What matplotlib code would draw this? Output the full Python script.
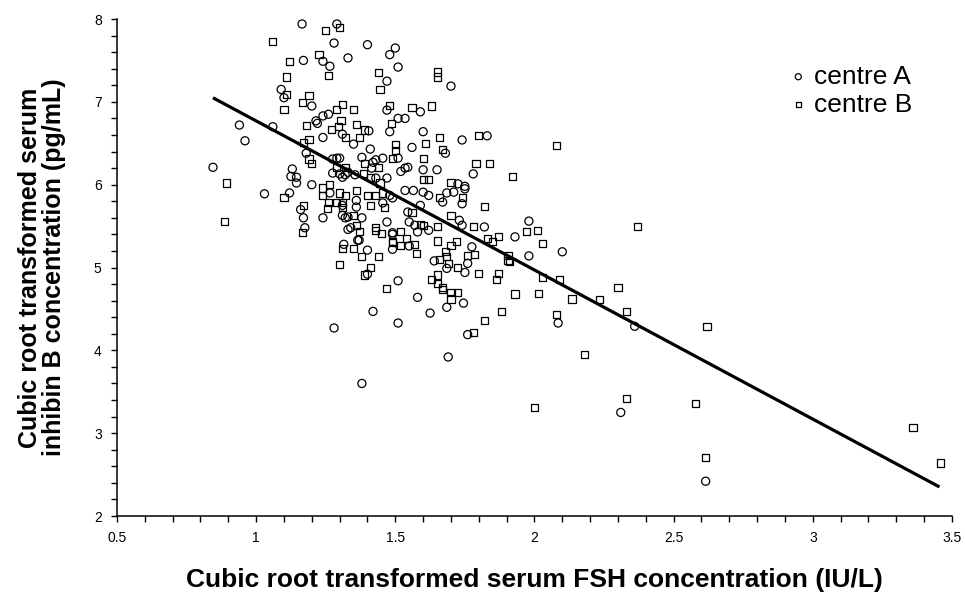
import matplotlib
matplotlib.use('Agg')
import matplotlib.pyplot as plt
from matplotlib.ticker import MultipleLocator
import numpy as np

plt.rcParams['font.family'] = ['Liberation Sans', 'DejaVu Sans']

# centre A (circles): cubic root FSH, cubic root inhibin B
a_x = [0.845, 0.94, 0.96, 1.03, 1.06, 1.165, 1.29, 1.28, 1.17, 1.24, 1.265, 1.33,
       1.09, 1.10, 1.20, 1.215, 1.22, 1.24, 1.26, 1.31, 1.24, 1.18, 1.275, 1.29,
       1.13, 1.125, 1.145, 1.275, 1.30, 1.32, 1.145, 1.20, 1.265, 1.12, 1.16, 1.17,
       1.24, 1.31, 1.32, 1.175, 1.33, 1.315, 1.28, 1.38, 1.42, 1.51, 1.51, 1.40,
       1.365, 1.49, 1.49, 1.51, 1.47, 1.70, 1.47, 1.59, 1.51, 1.535, 1.405, 1.35,
       1.48, 1.60, 1.74, 1.83, 1.41, 1.56, 1.68, 1.51, 1.38, 1.78, 1.65, 1.535,
       1.545, 1.52, 1.60, 1.725, 1.75, 1.75, 1.71, 1.685, 1.67, 1.74, 1.565, 1.535,
       1.60, 1.62, 1.59, 1.545, 1.55, 1.73, 1.82, 1.47, 1.30, 1.33, 1.31, 1.355,
       1.42, 1.43, 1.455, 1.415, 1.43, 1.47, 1.36, 1.48, 1.49, 1.455, 1.31, 1.36,
       1.38, 1.33, 1.34, 1.37, 1.40, 1.49, 1.55, 1.57, 1.58, 1.62, 1.64, 1.685,
       1.75, 1.76, 1.775, 1.74, 1.745, 1.685, 1.58, 1.625, 1.69, 1.76, 1.98, 1.93,
       2.10, 1.98, 2.36, 2.085, 2.31, 2.615, 1.40, 1.48, 1.50]
a_y = [6.21, 6.72, 6.53, 5.89, 6.70, 7.94, 7.94, 7.71, 7.50, 7.49, 7.43, 7.53,
       7.15, 7.05, 6.95, 6.77, 6.74, 6.83, 6.85, 6.61, 6.57, 6.38, 6.31, 6.32,
       6.19, 6.10, 6.09, 6.14, 6.13, 6.12, 6.02, 6.00, 5.90, 5.90, 5.70, 5.60,
       5.60, 5.63, 5.60, 5.48, 5.46, 5.28, 4.27, 3.60, 4.47, 4.84, 4.33, 4.92,
       5.33, 5.22, 5.40, 7.42, 7.25, 7.19, 6.90, 6.88, 6.80, 6.80, 6.65, 6.49,
       6.64, 6.64, 6.54, 6.59, 6.43, 6.45, 6.38, 6.32, 6.33, 6.13, 6.18, 6.20,
       6.21, 6.16, 6.18, 6.01, 5.98, 5.95, 5.91, 5.90, 5.79, 5.77, 5.93, 5.93,
       5.91, 5.87, 5.75, 5.67, 5.55, 5.57, 5.49, 5.55, 6.32, 6.15, 6.09, 6.12,
       6.27, 6.30, 6.32, 6.20, 6.08, 6.08, 5.81, 5.87, 5.84, 5.78, 5.75, 5.73,
       5.60, 5.61, 5.48, 5.33, 5.21, 5.42, 5.26, 5.51, 5.43, 5.45, 5.08, 4.99,
       4.94, 5.05, 5.25, 5.51, 4.57, 4.52, 4.64, 4.45, 3.92, 4.19, 5.56, 5.37,
       5.19, 5.14, 4.29, 4.33, 3.25, 2.42, 7.69, 7.57, 7.65]

# centre B (squares)
b_x = [0.895, 0.885, 1.25, 1.30, 1.06, 1.12, 1.226, 1.26, 1.11, 1.11, 1.10, 1.19,
       1.165, 1.31, 1.29, 1.18, 1.305, 1.27, 1.295, 1.32, 1.19, 1.17, 1.19, 1.20,
       1.29, 1.24, 1.265, 1.24, 1.26, 1.29, 1.30, 1.32, 1.31, 1.31, 1.255, 1.10,
       1.17, 1.165, 1.31, 1.30, 1.47, 1.35, 1.38, 1.44, 1.41, 1.39, 1.49, 1.45,
       1.44, 1.445, 1.65, 1.65, 1.35, 1.48, 1.56, 1.63, 1.485, 1.36, 1.39, 1.37,
       1.66, 1.80, 1.61, 1.50, 1.50, 1.67, 1.49, 1.60, 1.79, 1.84, 1.60, 1.62,
       1.70, 1.74, 1.66, 1.82, 1.56, 1.59, 1.65, 1.70, 1.78, 1.43, 1.32, 1.39,
       1.44, 1.385, 1.41, 1.445, 1.36, 1.40, 1.43, 1.455, 1.41, 1.46, 1.35, 1.36,
       1.37, 1.43, 1.52, 1.49, 1.52, 1.54, 1.57, 1.575, 1.65, 1.70, 1.72, 1.68,
       1.685, 1.66, 1.69, 1.725, 1.76, 1.785, 1.83, 1.85, 1.87, 1.905, 1.80, 1.87,
       1.865, 1.63, 1.65, 1.65, 1.67, 1.67, 1.70, 1.725, 1.70, 1.88, 1.82, 1.78,
       2.08, 1.92, 1.97, 2.01, 2.03, 1.905, 1.91, 2.03, 2.09, 1.93, 2.015, 2.135,
       2.235, 2.30, 2.33, 2.08, 2.37, 2.18, 2.00, 2.33, 2.58, 2.62, 2.615, 3.36,
       3.46, 1.60]
b_y = [6.02, 5.55, 7.86, 7.90, 7.73, 7.49, 7.57, 7.32, 7.30, 7.09, 6.91, 7.08,
       6.99, 6.97, 6.91, 6.72, 6.77, 6.67, 6.70, 6.57, 6.54, 6.51, 6.31, 6.26,
       6.21, 5.96, 6.00, 5.87, 5.79, 5.79, 5.90, 5.87, 5.78, 5.72, 5.71, 5.84,
       5.75, 5.42, 5.23, 5.04, 4.75, 5.23, 5.13, 5.13, 5.00, 4.91, 5.30, 5.41,
       7.35, 7.15, 7.36, 7.30, 6.91, 6.96, 6.93, 6.95, 6.74, 6.73, 6.66, 6.57,
       6.57, 6.59, 6.50, 6.49, 6.41, 6.43, 6.32, 6.32, 6.26, 6.26, 6.06, 6.06,
       6.03, 5.85, 5.85, 5.74, 5.66, 5.52, 5.49, 5.63, 5.50, 5.48, 6.21, 6.26,
       6.21, 6.14, 6.09, 6.02, 5.93, 5.87, 5.87, 5.90, 5.75, 5.72, 5.63, 5.51,
       5.44, 5.45, 5.43, 5.31, 5.27, 5.35, 5.28, 5.17, 5.32, 5.27, 5.31, 5.19,
       5.13, 5.10, 5.05, 5.00, 5.15, 5.16, 5.35, 5.31, 5.37, 5.08, 4.93, 4.93,
       4.85, 4.85, 4.91, 4.81, 4.76, 4.74, 4.70, 4.70, 4.62, 4.47, 4.36, 4.22,
       6.47, 6.10, 5.43, 5.45, 5.29, 5.15, 5.07, 4.88, 4.86, 4.68, 4.69, 4.62,
       4.61, 4.76, 4.47, 4.43, 5.50, 3.95, 3.31, 3.42, 3.36, 4.29, 2.71, 3.07,
       2.64, 5.51]

# fitted regression line
fit_intercept = 8.57
fit_slope = -1.80
fit_range = [0.85, 3.45]

fig = plt.figure(figsize=(9.65, 5.98), dpi=100)
ax = fig.add_axes([0.1212, 0.1371, 0.8653, 0.8311])

ax.scatter(a_x, a_y, s=34, marker='o', facecolors='none', edgecolors='black',
           linewidths=0.9, label='centre A', zorder=3)
ax.scatter(b_x, b_y, s=26, marker='s', facecolors='none', edgecolors='black',
           linewidths=0.9, label='centre B', zorder=3)

lx = np.array(fit_range)
ax.plot(lx, fit_intercept + fit_slope * lx, color='black', lw=2.3, zorder=4)

ax.set_xlim(0.5, 3.5)
ax.set_ylim(2, 8)
ax.xaxis.set_major_locator(MultipleLocator(0.5))
ax.xaxis.set_minor_locator(MultipleLocator(0.1))
ax.yaxis.set_major_locator(MultipleLocator(1))
ax.yaxis.set_minor_locator(MultipleLocator(0.2))
ax.set_xticks([0.5, 1, 1.5, 2, 2.5, 3, 3.5])
ax.set_xticklabels(['0.5', '1', '1.5', '2', '2.5', '3', '3.5'])

for side in ['top', 'right']:
    ax.spines[side].set_visible(False)
for side in ['left', 'bottom']:
    ax.spines[side].set_linewidth(1.1)

ax.tick_params(which='both', direction='out', width=1.0, labelsize=10)
ax.tick_params(which='major', length=4, pad=7)
ax.tick_params(which='minor', length=4)

ax.set_xlabel('Cubic root transformed serum FSH concentration (IU/L)',
              fontsize=19, fontweight='bold', labelpad=16)
ax.set_ylabel('Cubic root transformed serum\ninhibin B concentration (pg/mL)',
              fontsize=18, fontweight='bold', labelpad=20, linespacing=1.0)

leg = ax.legend(loc='upper left', bbox_to_anchor=(0.778, 0.956), frameon=False,
                fontsize=19, handletextpad=0.3, markerscale=0.75,
                labelspacing=0.15, handlelength=0.6, borderpad=0.4)

plt.savefig('out.png', dpi=100)
